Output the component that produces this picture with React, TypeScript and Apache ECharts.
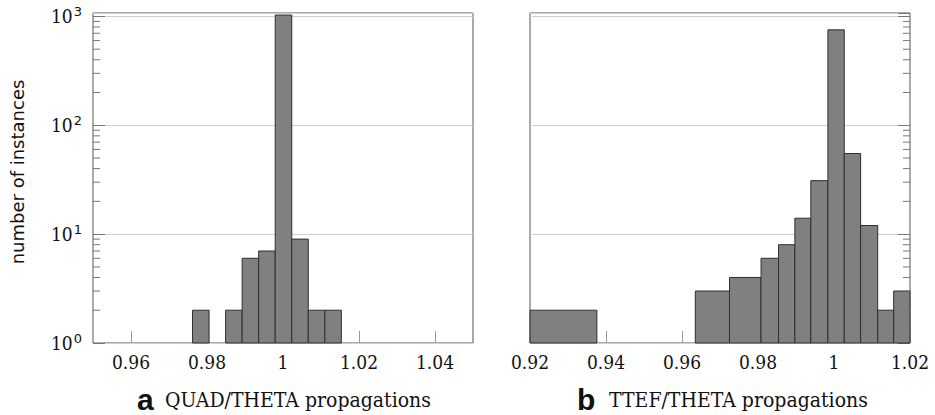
import React, { useEffect, useRef } from "react";
import * as echarts from "echarts";

// Histogram bins: [left edge, right edge, count]
const quadBins: [number, number, number][] = [
  [0.9762, 0.98055, 2],
  [0.9849, 0.98925, 2],
  [0.98925, 0.9936, 6],
  [0.9936, 0.99795, 7],
  [0.99795, 1.0023, 1030],
  [1.0023, 1.00665, 9],
  [1.00665, 1.011, 2],
  [1.011, 1.01535, 2],
];

const ttefBins: [number, number, number][] = [
  [0.92, 0.9376, 2],
  [0.9635, 0.9725, 3],
  [0.9725, 0.9808, 4],
  [0.9808, 0.9854, 6],
  [0.9854, 0.9897, 8],
  [0.9897, 0.9939, 14],
  [0.9939, 0.9984, 31],
  [0.9984, 1.0027, 753],
  [1.0027, 1.007, 55],
  [1.007, 1.0115, 12],
  [1.0115, 1.0157, 2],
  [1.0157, 1.02, 3],
];

const quadRange = [0.95, 1.05];
const ttefRange = [0.92, 1.02];
const yRange = [1, 1075];
const decades = [1, 10, 100];
const minorMultipliers = [2, 3, 4, 5, 6, 7, 8, 9];

const yTitle = "number of instances";
const captionA = ["a", "QUAD/THETA propagations"];
const captionB = ["b", "TTEF/THETA propagations"];

const minorTicks: number[] = [];
decades.forEach((d) => minorMultipliers.forEach((m) => minorTicks.push(d * m)));

const SERIF = "DejaVu Serif Condensed";
const SANS = "Liberation Sans";

function xFormatter(v: number) {
  if (Math.abs(v - 1) < 1e-9) return "1";
  return v.toFixed(2);
}

function barSeries(bins: [number, number, number][], idx: number) {
  return {
    type: "custom",
    xAxisIndex: idx,
    yAxisIndex: idx,
    z: 3,
    encode: { x: [0, 1], y: 2 },
    data: bins,
    renderItem: (params: any, api: any) => {
      const x0 = api.value(0);
      const x1 = api.value(1);
      const v = api.value(2);
      const p0 = api.coord([x0, yRange[0]]);
      const p1 = api.coord([x1, v]);
      return {
        type: "rect",
        shape: { x: p0[0], y: p1[1], width: p1[0] - p0[0], height: p0[1] - p1[1] },
        style: { fill: "#808080", stroke: "#2e2e2e", lineWidth: 1 },
      };
    },
  };
}

function minorTickSeries(idx: number, edge: number, dir: number) {
  return {
    type: "custom",
    xAxisIndex: idx,
    yAxisIndex: idx,
    z: 4,
    silent: true,
    data: minorTicks.map((t) => [edge, t]),
    encode: { x: 0, y: 1 },
    renderItem: (params: any, api: any) => {
      const p = api.coord([api.value(0), api.value(1)]);
      return {
        type: "line",
        shape: { x1: p[0], y1: p[1], x2: p[0] + dir * 7, y2: p[1] },
        style: { stroke: "#777", lineWidth: 1 },
      };
    },
  };
}

export default function App() {
  const ref = useRef<HTMLDivElement>(null);
  useEffect(() => {
    if (!ref.current) return;
    const chart = echarts.init(ref.current, null, { renderer: "svg" });
    const yAxisCommon = {
      type: "log",
      logBase: 10,
      min: yRange[0],
      max: yRange[1],
      axisLine: { show: false },
      axisTick: { show: true, inside: true, length: 12, lineStyle: { color: "#777" } },
      splitLine: { show: true, lineStyle: { color: "#cfcfcf", width: 1 } },
    };
    const xAxisCommon = {
      type: "value",
      splitNumber: 5,
      axisLine: { show: false },
      splitLine: { show: false },
      axisTick: { show: true, inside: true, length: 12, lineStyle: { color: "#999" } },
    };
    const xLabel = { margin: 9, fontFamily: SERIF, fontSize: 19, color: "#111" };
    chart.setOption({
      animation: false,
      grid: [
        { left: 93, top: 13, width: 380, height: 330, show: true, borderColor: "#555", borderWidth: 1, backgroundColor: "transparent" },
        { left: 530, top: 13, width: 380, height: 330, show: true, borderColor: "#555", borderWidth: 1, backgroundColor: "transparent" },
      ],
      xAxis: [
        {
          ...xAxisCommon,
          gridIndex: 0,
          min: quadRange[0],
          max: quadRange[1],
          axisLabel: {
            ...xLabel,
            showMinLabel: false,
            showMaxLabel: false,
            formatter: (v: number) =>
              Math.abs(v - quadRange[0]) < 1e-9 || Math.abs(v - quadRange[1]) < 1e-9 ? "" : xFormatter(v),
          },
        },
        {
          ...xAxisCommon,
          gridIndex: 1,
          min: ttefRange[0],
          max: ttefRange[1],
          interval: 0.02,
          axisLabel: { ...xLabel, formatter: xFormatter },
        },
      ],
      yAxis: [
        {
          ...yAxisCommon,
          gridIndex: 0,
          position: "left",
          axisLabel: {
            show: true,
            margin: 11,
            showMaxLabel: false,
            formatter: (v: number) => {
              const n = Math.round(Math.log10(v));
              if (Math.abs(Math.pow(10, n) - v) > 1e-6) return "";
              return `{b|10}{s|${n}}`;
            },
            rich: {
              b: { fontFamily: SERIF, fontSize: 19, color: "#111" },
              s: { fontFamily: "DejaVu Sans", fontSize: 13, color: "#111", padding: [0, 0, 10, 1] },
            },
          },
        },
        {
          ...yAxisCommon,
          gridIndex: 1,
          position: "right",
          axisLabel: { show: false },
        },
      ],
      series: [
        barSeries(quadBins, 0),
        barSeries(ttefBins, 1),
        minorTickSeries(0, quadRange[0], 1),
        minorTickSeries(1, ttefRange[1], -1),
      ],
      graphic: [
        {
          type: "text",
          x: 17,
          y: 172,
          rotation: Math.PI / 2,
          style: {
            text: yTitle,
            fontFamily: "DejaVu Sans",
            fontSize: 18,
            fill: "#111",
            align: "center",
            verticalAlign: "middle",
          },
        },
        {
          type: "text",
          x: 137,
          y: 399,
          style: { text: captionA[0], fontFamily: SANS, fontWeight: "bold", fontSize: 30, fill: "#111", align: "left", verticalAlign: "middle" },
        },
        {
          type: "text",
          x: 165,
          y: 400,
          style: { text: captionA[1], fontFamily: SERIF, fontSize: 21, fill: "#111", align: "left", verticalAlign: "middle" },
        },
        {
          type: "text",
          x: 577,
          y: 399,
          style: { text: captionB[0], fontFamily: SANS, fontWeight: "bold", fontSize: 30, fill: "#111", align: "left", verticalAlign: "middle" },
        },
        {
          type: "text",
          x: 609,
          y: 400,
          style: { text: captionB[1], fontFamily: SERIF, fontSize: 21, fill: "#111", align: "left", verticalAlign: "middle" },
        },
      ],
    });
    return () => chart.dispose();
  }, []);
  return <div ref={ref} style={{ position: "absolute", left: 0, top: 0, width: 935, height: 415 }} />;
}
